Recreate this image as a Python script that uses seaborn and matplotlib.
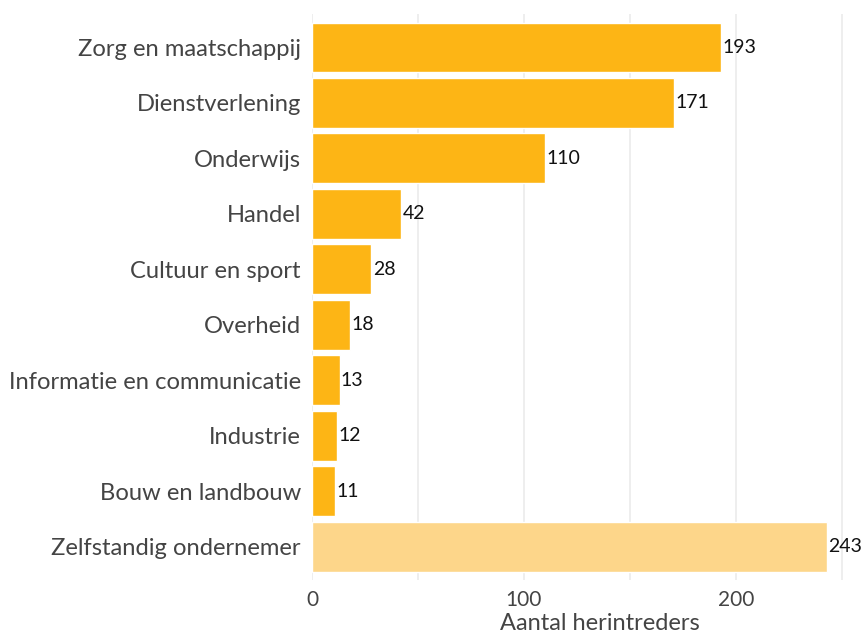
import matplotlib
matplotlib.use("Agg")
import matplotlib.pyplot as plt
import seaborn as sns
import pandas as pd
from matplotlib.ticker import MultipleLocator

categories = ["Zorg en maatschappij", "Dienstverlening", "Onderwijs", "Handel",
              "Cultuur en sport", "Overheid", "Informatie en communicatie",
              "Industrie", "Bouw en landbouw", "Zelfstandig ondernemer"]
values = [193, 171, 110, 42, 28, 18, 13, 12, 11, 243]
bar_colors = ["#FDB515"] * 9 + ["#FDD68A"]


def main():
    sns.set_theme(style="white")
    plt.rcParams["font.family"] = ["Lato", "DejaVu Sans"]

    df = pd.DataFrame({"sector": categories, "aantal": values})

    fig = plt.figure(figsize=(8.61, 6.35), dpi=100)
    ax = fig.add_axes([0.3624, 0.0866, 0.625, 0.891])

    sns.barplot(data=df, x="aantal", y="sector", hue="sector",
                palette=bar_colors, width=0.9, legend=False, ax=ax,
                saturation=1, zorder=2)

    ax.set_xlim(0, 254)
    ax.set_ylim(9.6, -0.6)
    ax.xaxis.set_major_locator(MultipleLocator(100))
    ax.xaxis.set_minor_locator(MultipleLocator(50))
    ax.grid(axis="x", which="both", color="#EBEBEB", linewidth=1.2, zorder=0)
    ax.grid(axis="y", visible=False)
    for s in ax.spines.values():
        s.set_visible(False)

    for cont in ax.containers:
        ax.bar_label(cont, padding=1, fontsize=14, color="#111111")

    ax.tick_params(axis="y", length=0, pad=8, labelsize=17.1, labelcolor="#444444")
    ax.tick_params(axis="x", which="both", length=0, pad=7, labelsize=15,
                   labelcolor="#444444")
    ax.set_ylabel("")
    ax.set_xlabel("Aantal herintreders", fontsize=17, color="#444444")
    ax.xaxis.set_label_coords(0.535, -0.058)

    fig.savefig("out.png", dpi=100)


if __name__ == "__main__":
    main()
